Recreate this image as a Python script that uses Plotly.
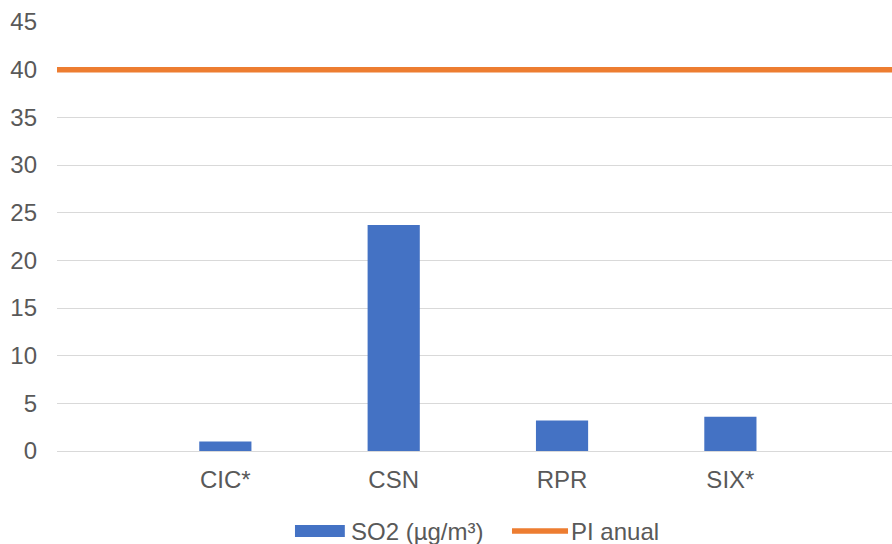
import plotly.graph_objects as go

# Annual mean SO2 per station and the annual limit value
stations = ["CIC*", "CSN", "RPR", "SIX*"]
so2_values = [1.0, 23.7, 3.2, 3.6]
pi_anual = 40
y_ticks = [0, 5, 10, 15, 20, 25, 30, 35, 40, 45]

BAR_COLOR = "#4472C4"
LINE_COLOR = "#ED7D31"
TEXT_COLOR = "#595959"
GRID_COLOR = "#D9D9D9"
FONT = "Liberation Sans, Arial, sans-serif"
FONT_SIZE = 24

x_pos = list(range(len(stations)))

fig = go.Figure()

fig.add_trace(go.Bar(
    x=x_pos, y=so2_values, width=0.31,
    marker=dict(color=BAR_COLOR, line=dict(width=0)),
    name="SO2 (µg/m³)", showlegend=False,
))

# Limit line spans the full category axis (one blank slot on either side)
line_x = [-1] + x_pos + [len(stations)]
fig.add_trace(go.Scatter(
    x=line_x, y=[pi_anual] * len(line_x), mode="lines",
    line=dict(color=LINE_COLOR, width=5.5),
    name="PI anual", showlegend=False,
))

# Legend drawn below the plot area
legend_y = -0.1865
fig.add_shape(type="rect", xref="paper", yref="paper",
              x0=0.285, x1=0.3447, y0=legend_y - 0.014, y1=legend_y + 0.014,
              fillcolor=BAR_COLOR, line=dict(width=0))
fig.add_shape(type="line", xref="paper", yref="paper",
              x0=0.5449, x1=0.612, y0=legend_y, y1=legend_y,
              line=dict(color=LINE_COLOR, width=5.5))
fig.add_annotation(xref="paper", yref="paper", x=0.3497, y=legend_y,
                   text="SO2 (µg/m³)", showarrow=False, xanchor="left", yanchor="middle",
                   font=dict(family=FONT, size=FONT_SIZE, color=TEXT_COLOR))
fig.add_annotation(xref="paper", yref="paper", x=0.6132, y=legend_y,
                   text="PI anual", showarrow=False, xanchor="left", yanchor="middle",
                   font=dict(family=FONT, size=FONT_SIZE, color=TEXT_COLOR))

fig.update_layout(
    width=892, height=544,
    margin=dict(l=57, r=0, t=22, b=93),
    plot_bgcolor="white", paper_bgcolor="white",
    font=dict(family=FONT, size=FONT_SIZE, color=TEXT_COLOR),
    xaxis=dict(
        range=[-1, 3.96], tickvals=x_pos, ticktext=stations,
        showgrid=False, zeroline=False, showline=False,
        ticks="", ticklabelstandoff=12,
        tickfont=dict(family=FONT, size=FONT_SIZE, color=TEXT_COLOR),
    ),
    yaxis=dict(
        range=[0, 45], tickvals=y_ticks,
        showgrid=True, gridcolor=GRID_COLOR, gridwidth=1.3,
        zeroline=True, zerolinecolor=GRID_COLOR, zerolinewidth=1.3,
        showline=False, ticks="", ticklabelstandoff=19,
        tickfont=dict(family=FONT, size=FONT_SIZE, color=TEXT_COLOR),
    ),
)

fig.write_html("out.html")
